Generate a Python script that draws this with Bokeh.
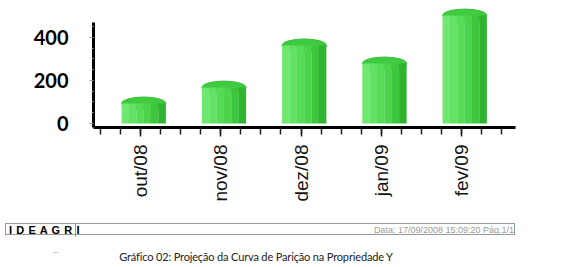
import math
from bokeh.plotting import figure
from bokeh.layouts import column
from bokeh.models import Range1d, FixedTicker, ColumnDataSource, Div
from bokeh.embed import file_html
from bokeh.resources import INLINE

# ---- data ----
categories = ["out/08", "nov/08", "dez/08", "jan/09", "fev/09"]
values = [93, 167, 363, 279, 502]
y_ticks = [0, 200, 400]
y_minor = [50, 100, 150, 250, 300, 350, 450]
footer_left = "I D E A G R I"
footer_right = "Data: 17/09/2008 15:09:20 Pág.1/1"
caption = "Gráfico 02: Projeção da Curva de Parição na Propriedade Y"

idx = list(range(len(categories)))

p = figure(width=569, height=210, output_backend="svg", toolbar_location=None,
           x_range=Range1d(-0.586, 4.673), y_range=Range1d(-18.6, 548.8),
           min_border_left=93, min_border_right=54, min_border_top=5,
           min_border_bottom=83, margin=0)
p.outline_line_color = None
p.xgrid.visible = False
p.ygrid.visible = False
p.background_fill_color = "white"
p.border_fill_color = "white"

# cylinder: cap ellipse then vertical strips
bar_w = 0.55
off = 0.04
strip_cols = ["#70e870", "#63e263", "#57dc57", "#4cd44c", "#3ec63e", "#2eb42e"]
n = len(strip_cols)
sw = bar_w / n
src = ColumnDataSource(dict(x=[i + off for i in idx], top=values))
p.ellipse(x="x", y="top", width=bar_w, height=13, height_units="screen",
          source=src, fill_color="#3fcb3f", line_color="#36c036", line_width=1)
for k, c in enumerate(strip_cols):
    xs = [i + off - bar_w / 2 + sw * (k + 0.5) for i in idx]
    p.vbar(x=xs, top=values, bottom=0, width=sw * 1.02, fill_color=c, line_color=None)

# axes
xa = p.xaxis[0]
xa.ticker = FixedTicker(ticks=idx, minor_ticks=[-0.5 + 0.25 * j for j in range(21)])
xa.major_label_overrides = {i: c for i, c in zip(idx, categories)}
xa.major_label_orientation = math.pi / 2
xa.axis_line_width = 3
xa.axis_line_color = "black"
xa.major_tick_out = 9
xa.major_tick_in = 0
xa.minor_tick_out = 7
xa.minor_tick_in = 0
xa.major_tick_line_color = "#222222"
xa.minor_tick_line_color = "#222222"
xa.major_tick_line_width = 1.5
xa.minor_tick_line_width = 1.5
xa.major_label_standoff = 8
xa.major_label_text_font = "Liberation Sans"
xa.major_label_text_font_size = "19px"
xa.major_label_text_color = "#111111"

ya = p.yaxis[0]
ya.ticker = FixedTicker(ticks=y_ticks, minor_ticks=y_minor)
ya.bounds = (-18.6, 470)
ya.axis_line_width = 3
ya.axis_line_color = "black"
ya.major_tick_out = 4
ya.major_tick_in = 0
ya.minor_tick_out = 2
ya.minor_tick_in = 0
ya.major_tick_line_color = "#999999"
ya.minor_tick_line_color = "#aaaaaa"
ya.major_label_standoff = 21
ya.major_label_text_font = "Lato"
ya.major_label_text_font_style = "bold"
ya.major_label_text_font_size = "20px"
ya.major_label_text_color = "black"

# footer as HTML
html = (
    '<div style="position:relative;width:569px;height:57px;background:white;">'
    '<div style="position:absolute;left:5px;top:13px;width:510px;height:12px;'
    'border:1px solid #999999;"></div>'
    '<div style="position:absolute;left:75px;top:13px;width:1px;height:14px;'
    'background:#999999;"></div>'
    '<span style="position:absolute;left:9px;top:13px;line-height:14px;'
    'font-family:\'Liberation Sans\';font-weight:bold;font-size:11px;color:black;'
    'letter-spacing:0.6px;white-space:pre;">' + footer_left + '</span>'
    '<span style="position:absolute;right:55px;top:13px;line-height:14px;'
    'font-family:\'Liberation Sans\';font-size:9px;color:#999999;white-space:pre;">'
    + footer_right + '</span>'
    '<div style="position:absolute;left:53px;top:42px;width:5px;height:1px;'
    'background:#cccccc;"></div>'
    '<div style="position:absolute;left:0px;width:512px;top:40px;line-height:14px;'
    'text-align:center;font-family:Lato;font-size:11px;letter-spacing:-0.15px;'
    'color:#222222;white-space:pre;">' + caption + '</div>'
    '</div>'
)
f = Div(text=html, width=569, height=57, margin=0)

layout = column(p, f, spacing=0)
open("out.html", "w").write(file_html(layout, INLINE))
